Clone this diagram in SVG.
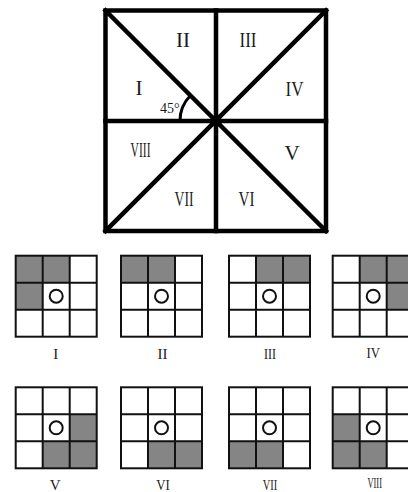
<svg xmlns="http://www.w3.org/2000/svg" xmlns:xlink="http://www.w3.org/1999/xlink" width="408" height="492" viewBox="0 0 408 492">
  <style>
    .big { fill: none; stroke: #000; stroke-width: 4.5; stroke-linecap: square; }
    .arc { fill: none; stroke: #000; stroke-width: 3; }
    .lbl { font-family: "Liberation Serif", "Times New Roman", serif; fill: #1a1a1a; text-anchor: middle; }
    .lg { font-size: 21px; }
    .sm { font-size: 15px; }
    .deg { font-family: "Liberation Serif", serif; font-size: 14px; fill: #1a1a1a; }
    .g { fill: none; stroke: #111; stroke-width: 2; }
    .sh { fill: #858585; }
  </style>
  <defs>
    <g id="gridlines">
      <rect class="g" x="0" y="0" width="81" height="81"/>
      <path class="g" d="M27 0V81M54 0V81M0 27H81M0 54H81"/>
      <circle class="g" cx="40.5" cy="40.5" r="6.5"/>
    </g>
  </defs>
  <rect width="408" height="492" fill="#fff"/>

  <g id="sector-diagram">
    <rect class="big" x="105.5" y="10.5" width="220.5" height="220.5"/>
    <path class="big" d="M216 10.5V231M105.5 121H326M105.5 10.5L326 231M326 10.5L105.5 231"/>
    <path class="arc" d="M180 121A36 36 0 0 1 190.5 95.5"/>
    <text class="deg" x="160" y="113">45°</text>
    <text class="lbl lg" x="139" y="95">I</text>
    <text class="lbl lg" x="183" y="47">II</text>
    <text class="lbl lg" x="248" y="47" textLength="17" lengthAdjust="spacingAndGlyphs">III</text>
    <text class="lbl lg" x="294.5" y="96" textLength="18" lengthAdjust="spacingAndGlyphs">IV</text>
    <text class="lbl lg" x="292" y="160">V</text>
    <text class="lbl lg" x="246.5" y="206" textLength="16" lengthAdjust="spacingAndGlyphs">VI</text>
    <text class="lbl lg" x="184" y="206" textLength="19" lengthAdjust="spacingAndGlyphs">VII</text>
    <text class="lbl lg" x="140.5" y="157" textLength="20" lengthAdjust="spacingAndGlyphs">VIII</text>
  </g>

  <g id="option-I" transform="translate(15.7,255.7)">
    <rect class="sh" x="0" y="0" width="54" height="27"/>
    <rect class="sh" x="0" y="27" width="27" height="27"/>
    <use xlink:href="#gridlines" href="#gridlines"/>
    <text class="lbl sm" x="40" y="103.5">I</text>
  </g>
  <g id="option-II" transform="translate(121,255.7)">
    <rect class="sh" x="0" y="0" width="54" height="27"/>
    <use xlink:href="#gridlines" href="#gridlines"/>
    <text class="lbl sm" x="41.5" y="103.5">II</text>
  </g>
  <g id="option-III" transform="translate(229,255.7)">
    <rect class="sh" x="27" y="0" width="54" height="27"/>
    <use xlink:href="#gridlines" href="#gridlines"/>
    <text class="lbl sm" x="41" y="103.5" textLength="12" lengthAdjust="spacingAndGlyphs">III</text>
  </g>
  <g id="option-IV" transform="translate(332.7,255.7)">
    <rect class="sh" x="27" y="0" width="54" height="27"/>
    <rect class="sh" x="54" y="27" width="27" height="27"/>
    <use xlink:href="#gridlines" href="#gridlines"/>
    <text class="lbl sm" x="40.5" y="102" textLength="13.5" lengthAdjust="spacingAndGlyphs">IV</text>
  </g>

  <g id="option-V" transform="translate(15.7,387.3)">
    <rect class="sh" x="54" y="27" width="27" height="27"/>
    <rect class="sh" x="27" y="54" width="54" height="27"/>
    <use xlink:href="#gridlines" href="#gridlines"/>
    <text class="lbl sm" x="39.5" y="102.5">V</text>
  </g>
  <g id="option-VI" transform="translate(121,387.3)">
    <rect class="sh" x="27" y="54" width="54" height="27"/>
    <use xlink:href="#gridlines" href="#gridlines"/>
    <text class="lbl sm" x="42" y="102.5" textLength="13.5" lengthAdjust="spacingAndGlyphs">VI</text>
  </g>
  <g id="option-VII" transform="translate(229,387.3)">
    <rect class="sh" x="0" y="54" width="54" height="27"/>
    <use xlink:href="#gridlines" href="#gridlines"/>
    <text class="lbl sm" x="41" y="102.5" textLength="14.5" lengthAdjust="spacingAndGlyphs">VII</text>
  </g>
  <g id="option-VIII" transform="translate(332.7,387.3)">
    <rect class="sh" x="0" y="27" width="27" height="54"/>
    <rect class="sh" x="27" y="54" width="27" height="27"/>
    <use xlink:href="#gridlines" href="#gridlines"/>
    <text class="lbl sm" x="42" y="101" textLength="14.5" lengthAdjust="spacingAndGlyphs">VIII</text>
  </g>
  <g id="connectors"/>
</svg>
